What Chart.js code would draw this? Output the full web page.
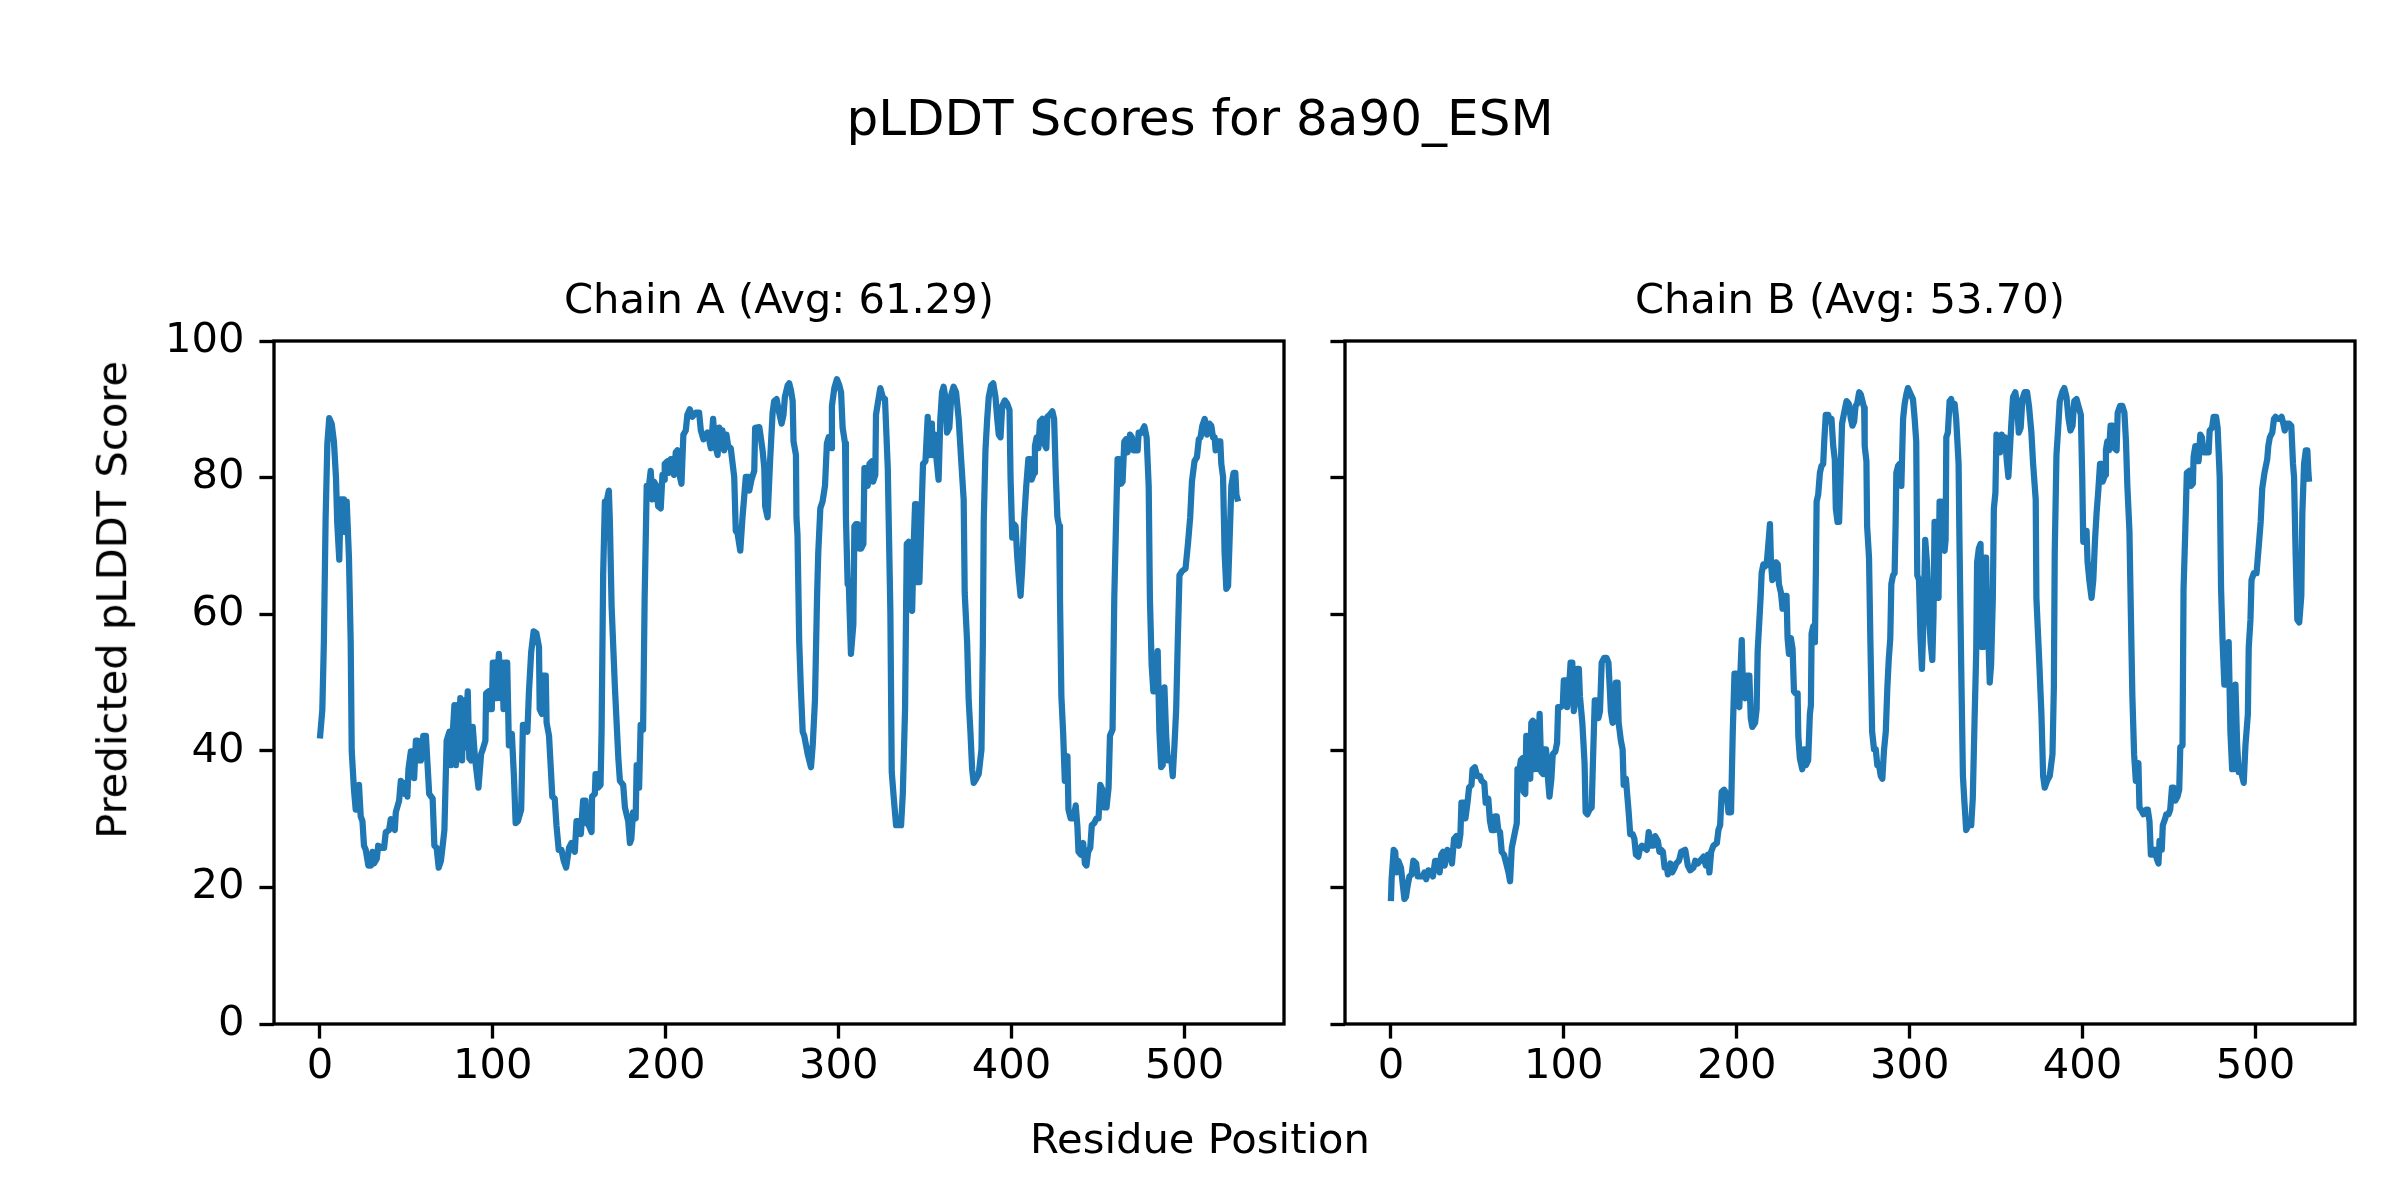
<!DOCTYPE html>
<html>
<head>
<meta charset="utf-8">
<script src="https://cdn.jsdelivr.net/npm/chart.js@4.4.0/dist/chart.umd.min.js"></script>
<style>
    html, body { margin: 0; padding: 0; background: #ffffff; }
    #fig { position: relative; width: 2400px; height: 1200px; overflow: hidden; font-family: 'DejaVu Sans', sans-serif; color: #000; }
    canvas { position: absolute; top: 0; }
    #chartA { left: 0; }
    #chartB { left: 1300px; }
    .txt { position: absolute; white-space: nowrap; line-height: 1; text-align: center; }
    #suptitle { font-size: 50px; left: 0; width: 2400px; top: 93px; }
    #supxlabel { font-size: 41.67px; left: 0; width: 2400px; top: 1118px; }
    #supylabel { font-size: 41.67px; left: -188px; width: 600px; top: 579px; transform: rotate(-90deg); }
</style>
</head>
<body>
<div id="fig">
    <div class="txt" id="suptitle">pLDDT Scores for 8a90_ESM</div>
    <canvas id="chartA" width="1300" height="1200"></canvas>
    <canvas id="chartB" width="1100" height="1200"></canvas>
    <div class="txt" id="supxlabel">Residue Position</div>
    <div class="txt" id="supylabel">Predicted pLDDT Score</div>
</div>
<script>
// values, residue index -> score
const residueA = [
    0, 1.4, 2.3, 3.3, 4.3, 5.4, 6.8, 8.1, 9.3, 10,
    11.2, 12, 13.9, 14.5, 15.5, 16.8, 17.8, 18.4, 19.7, 20.7,
    22, 22.6, 23.6, 24.6, 25.5, 26.5, 28, 29.4, 30.4, 31.3,
    32.9, 33.7, 35.6, 37.1, 38.1, 40, 41, 43.3, 43.9, 45.8,
    46.8, 47.8, 48.7, 49.3, 50.6, 51.2, 52.6, 53.6, 54.5, 55.5,
    56.5, 57.4, 58.4, 59.8, 61.3, 63.2, 65.2, 66.2, 67.5, 68.7,
    70, 71, 72, 73.3, 74.9, 75.8, 76.8, 77.8, 78.7, 79.3,
    80.3, 81.2, 82.2, 83.2, 83.9, 85.5, 86.4, 87.4, 88.4, 89.7,
    91.7, 93.2, 94.2, 95.7, 96.1, 97.5, 98.3, 99.4, 100, 101.4,
    102.1, 103.5, 104.4, 105.4, 106.2, 107.2, 108.3, 109.3, 111, 112.2,
    113.2, 114.5, 116.4, 117.4, 118.8, 120, 120.9, 122.2, 123.6, 125.2,
    126.7, 127.1, 128.4, 129, 130.6, 131.1, 132.5, 133.5, 134.4, 135.8,
    136.8, 138.1, 139.7, 141, 142.4, 144.1, 145.5, 147.4, 148.4, 149.7,
    150.9, 152.2, 153.6, 154.2, 155.5, 157.1, 157.4, 159, 159.4, 160.5,
    160.9, 162.3, 162.9, 163.8, 164.8, 165.8, 167.1, 167.7, 168.7, 170.6,
    172.6, 173.5, 175.4, 176.4, 178.3, 179.3, 180.1, 181.1, 182.6, 183.2,
    184.6, 185.5, 186.9, 187.8, 189, 190.3, 191.3, 192.3, 193.2, 194.6,
    195.6, 197.1, 198.1, 199, 199.4, 201, 201.9, 202.9, 204.2, 204.8,
    205.8, 206.8, 207.7, 209.1, 210.2, 211.6, 212.5, 213.9, 215.4, 217.4,
    219.3, 220.3, 221.8, 224.1, 225.1, 226.1, 227.4, 228.4, 230, 230.9,
    231.9, 232.8, 233.8, 235.1, 236.1, 237.6, 239.6, 240.5, 241.5, 243.1,
    244.4, 246.3, 247.9, 248.3, 249.6, 251.2, 251.7, 254.1, 256, 257,
    257.5, 258.9, 260.4, 261.8, 262.7, 264.1, 265.6, 267, 268.1, 268.9,
    270.5, 271.4, 272.4, 273.4, 273.9, 275.3, 275.6, 276.2, 277.2, 278.2,
    279.2, 280.1, 282.1, 284, 285, 286.3, 287.5, 288.2, 289.4, 290.7,
    292.1, 293.2, 294.2, 295.6, 296.1, 297.5, 299, 300.4, 301.4, 302.3,
    303.7, 304.2, 305.2, 305.8, 307.1, 308.5, 309.1, 310, 311, 312,
    313, 314.3, 314.9, 315.8, 316.8, 317.8, 319.3, 319.9, 321.2, 321.6,
    322.6, 324.1, 325.5, 326.8, 328.4, 329.9, 330.7, 331.9, 333.2, 335.1,
    336.1, 337.1, 338.4, 339.4, 340.5, 341.5, 342.5, 343.4, 344.2, 345,
    345.7, 346.7, 348.1, 348.8, 350.2, 351.5, 352.5, 353.9, 354.4, 355.8,
    356.6, 357.8, 358.8, 359.8, 360.7, 361.7, 362.7, 364, 365.2, 366.5,
    367.9, 369.4, 371, 372.3, 372.9, 374.3, 375.2, 376.2, 377.2, 378.1,
    379.5, 381, 382.6, 383.4, 383.9, 384.9, 385.9, 386.8, 388.2, 389.4,
    390.7, 391.7, 392.6, 393.6, 394.6, 396.1, 397.5, 398.8, 399.4, 400.4,
    401.4, 402.3, 403.3, 404.3, 405.2, 406.2, 407.2, 408.5, 409.7, 411,
    411.6, 413, 413.5, 414.5, 415.5, 416.4, 417.8, 418.8, 420.1, 420.7,
    422, 423.6, 424.6, 425.6, 426.5, 427.5, 428, 428.8, 429.8, 430.8,
    432.3, 432.9, 434.2, 435.8, 437.1, 438.1, 438.7, 440, 441.4, 442.4,
    443.3, 444.3, 445.5, 446.4, 447.8, 449.1, 450.3, 451.3, 452.6, 453.6,
    454.9, 456.1, 456.9, 458.4, 459.4, 460.3, 461.3, 462.3, 463.3, 464.2,
    465.2, 466.2, 467.1, 468.5, 469.6, 470.4, 471.9, 472.9, 473.5, 474.8,
    476.8, 478.1, 479.3, 480, 481, 482, 483.6, 484.5, 485.5, 486.5,
    487.4, 488.4, 489.4, 490.3, 491.3, 492.3, 493.2, 494.2, 495.2, 496.1,
    497.1, 498.6, 500.6, 502, 503.3, 504.3, 505.8, 507.2, 508.3, 509.3,
    510.3, 511.7, 513, 514.5, 515.5, 516.5, 517.4, 518, 519.4, 520.7,
    521.3, 522.3, 523.2, 524.2, 525.2, 526.1, 527.1, 528.4, 529.4, 530, 531
];
const plddtA = [
    41.8, 46, 56, 74, 85, 88.7, 87.9, 85.3, 80, 73.5,
    68, 76.8, 76.8, 72, 76.5, 68.3, 56, 40, 34.3, 31.4,
    31.4, 35, 30.4, 29.7, 26.1, 25.5, 23.2, 23.2, 25.2, 23.5,
    24.2, 26.1, 25.8, 25.8, 28.1, 28.4, 30, 28.4, 31, 32.7,
    35.6, 35.3, 33.7, 35.3, 33.3, 37.3, 39.9, 39.9, 36, 41.5,
    41.5, 38.6, 38.6, 42.2, 42.2, 33.7, 33, 26.1, 25.8, 22.9,
    23.9, 26.1, 28.4, 41.5, 42.8, 37.9, 42.5, 46.7, 37.9, 46.7,
    39.5, 47.7, 38.6, 47.4, 40.5, 48.7, 38.9, 38.6, 43.5, 38.9,
    34.6, 39.5, 40.2, 41.5, 48.4, 48.7, 46.1, 46.1, 52.9, 52.9,
    47.7, 54.2, 47.7, 52.9, 46.1, 52.9, 52.9, 40.8, 42.5, 36.3,
    29.4, 29.7, 31.4, 43.8, 43.8, 42.8, 48.7, 54.5, 57.5, 57.2,
    55.2, 46.1, 45.4, 51, 51, 44.1, 42.2, 37.6, 33.3, 33,
    29.1, 25.5, 25.5, 23.9, 22.9, 25.8, 26.5, 25.2, 29.7, 29.7,
    27.8, 32.7, 32.7, 29.4, 29.1, 28.1, 33.3, 33.7, 36.6, 36.6,
    34.6, 35, 42.8, 65.7, 76.5, 76.5, 78.1, 73.5, 61.1, 49.3,
    38.9, 35.6, 35, 31.7, 29.7, 26.5, 27.1, 31, 30.1, 37.9,
    34.6, 43.8, 43.1, 62.4, 78.8, 78.8, 81, 76.8, 79.4, 78.8,
    75.8, 75.5, 80.4, 79.7, 82, 82.4, 80.7, 82.7, 82.7, 80.4,
    83.7, 84, 80.7, 79.1, 86.3, 86.9, 89.2, 90, 88.9, 89.5,
    89.5, 86.9, 85.6, 86.6, 85.6, 84.3, 88.6, 85, 83.3, 87.3,
    84.3, 86.9, 84, 86.3, 84.6, 84.3, 80.1, 72.2, 71.9, 69.3,
    74.2, 80.1, 80.1, 78.1, 79.7, 81, 87.3, 87.4, 84, 81.4,
    75.8, 74.2, 82.7, 89.5, 91.2, 91.5, 89.5, 87.9, 89.2, 91.8,
    93.5, 93.8, 92.8, 91.2, 85.3, 83.3, 74.2, 71.6, 55.9, 48.7,
    42.8, 42.2, 39.5, 37.6, 40.8, 47.4, 62.4, 69, 75.5, 76.5,
    78.8, 85, 85.9, 84.3, 90.5, 93.1, 94.4, 93.5, 92.5, 87.3,
    85, 74.2, 64.4, 65, 54.2, 58.5, 72.9, 73.2, 73.2, 69.6,
    69.6, 70.3, 81.4, 81.4, 78.8, 82, 82.4, 79.4, 80.4, 89.2,
    90.8, 93.1, 91.8, 91.5, 81.4, 60.5, 36.9, 33, 29.1, 29.1,
    29.1, 33.7, 46.1, 70.3, 70.6, 62.4, 60.5, 70.3, 76.1, 76.1,
    64.7, 64.7, 76.5, 82, 82.4, 88.9, 83.3, 87.9, 83.3, 86.3,
    82.7, 79.7, 88.6, 92.5, 93.3, 91.8, 86.6, 87.3, 92.2, 93.3,
    92.5, 88.6, 82, 76.8, 63.1, 55.9, 47.4, 42.8, 37.3, 35.3,
    35.9, 36.6, 40.2, 55.9, 73.5, 84, 88.6, 91.8, 93.5, 93.8,
    91.8, 88.6, 86.3, 85.9, 90.5, 91.3, 90.8, 89.9, 80.1, 71.2,
    73.2, 72.9, 68.3, 65, 62.7, 67, 73.5, 78.8, 82.7, 82.7,
    79.7, 80.7, 84.6, 85.9, 84.3, 88.2, 88.6, 85, 84.3, 88.9,
    89.2, 89.7, 88.6, 80.1, 74.2, 72.9, 62.4, 48, 42.8, 35.6,
    39.2, 31.4, 30.1, 30.1, 32, 28.8, 25.2, 24.8, 26.5, 23.5,
    23.2, 25.2, 25.8, 29.1, 29.4, 30.1, 30.1, 35, 34.3, 31.7,
    31.7, 34.6, 42.2, 43.1, 62.4, 72.2, 82.7, 82.7, 79.1, 79.4,
    85.3, 85.6, 83.7, 86.3, 85.9, 84, 84, 84, 86.6, 86.5,
    87.5, 85.9, 78.8, 62.4, 52.6, 48.7, 48.7, 54.6, 42.8, 37.6,
    37.9, 49.3, 42.2, 38.6, 38.9, 38.9, 36.3, 40.8, 46.1, 55.9,
    65.7, 66.3, 66.7, 70.3, 74.2, 79.4, 82.4, 83, 85.6, 85.9,
    87.6, 88.6, 86.3, 87.9, 87.6, 85.9, 85.9, 84, 85.3, 85.3,
    82, 80.1, 69, 63.7, 64.1, 70.9, 78.8, 80.7, 80.7, 77.5, 76.5
];

const residueB = [
    0, 0.4, 1.6, 2.5, 3.3, 4.3, 5.8, 6.8, 7.8, 8.7,
    9.7, 10.7, 12, 13, 14.6, 15.5, 17.1, 18.4, 19.4, 20.4,
    21.7, 23.3, 24.3, 25.6, 27.2, 28.2, 29.1, 30.1, 31.1, 32.6,
    34, 35.3, 36.5, 37.9, 39.2, 40.2, 40.8, 42.3, 43.1, 44.3,
    45.2, 46.6, 47.2, 48.5, 49.9, 51.5, 52.4, 54, 54.8, 56.3,
    57.3, 58.3, 59.8, 60.2, 61.2, 62.1, 63.1, 64.1, 65.4, 67,
    68, 68.9, 69.9, 71.5, 72.8, 73.2, 74.4, 75.1, 76.1, 76.7,
    77.7, 78.3, 79, 79.6, 80.6, 81.2, 82.1, 83.1, 84.1, 85,
    86, 87, 88, 88.7, 89.7, 90.7, 91.7, 92.8, 93.6, 95.1,
    96.1, 96.7, 98.1, 99.4, 100, 101.4, 101.9, 102.9, 103.9, 104.9,
    105.8, 106.8, 107.8, 108.7, 109.3, 110.7, 112, 112.6, 113.6, 114.9,
    116.1, 116.9, 117.9, 119, 120, 120.9, 121.9, 123.3, 124.7, 125.8,
    126.6, 127.2, 128.2, 129.1, 130.1, 131.1, 131.7, 133, 134, 134.6,
    135.9, 137.5, 138.4, 139.8, 140.8, 141.7, 143.1, 144.1, 145.2, 146.6,
    148, 149.1, 150.5, 151.8, 152.8, 154.4, 155.3, 156.3, 157.3, 158.3,
    159.6, 160.2, 161.6, 162.7, 164.1, 165, 166.6, 167.9, 170.2, 171.7,
    173.1, 175, 176, 177.5, 178.8, 180.8, 182.1, 183.3, 184.2, 185.2,
    186.5, 188.5, 189.4, 190.4, 191.3, 192.7, 194.2, 195.2, 196.7, 197.7,
    198.7, 199.6, 200.6, 201.5, 202.1, 202.9, 203.7, 204.8, 205.8, 207.3,
    208.1, 209, 210.6, 211.5, 212.1, 213.1, 213.8, 214.4, 215.4, 216.3,
    217.3, 218.3, 219.2, 219.8, 220.6, 221.7, 222.7, 223.7, 224.4, 225.6,
    226.5, 227.9, 228.8, 229.4, 230.2, 231.3, 232.3, 233.1, 234, 235.2,
    235.6, 236.5, 237.9, 239, 240, 241.3, 242.3, 242.9, 243.3, 244.2,
    245.2, 245.8, 246.2, 247.1, 248.1, 249, 250, 250.6, 251.5, 252.9,
    253.8, 254.8, 255.8, 256.7, 257.3, 258.3, 259.2, 260, 260.9, 262.1,
    263.5, 264.8, 266, 266.9, 267.9, 268.7, 269.6, 270.8, 271.7, 272.7,
    273.7, 274, 275, 275.4, 276.5, 277.3, 278.3, 279.4, 280.4, 281.3,
    282.3, 283.3, 284.2, 285.2, 286.2, 287.1, 287.9, 288.8, 289.4, 290.4,
    291.3, 291.9, 292.3, 293.3, 294.2, 295.2, 296.2, 297.1, 298.1, 299,
    300.6, 301.9, 302.9, 303.8, 304.4, 305.4, 306.3, 307.1, 308.1, 309,
    310, 310.9, 312.1, 313.1, 313.8, 314.4, 315.4, 316, 316.7, 317.3,
    318.3, 319.2, 320.2, 320.8, 321.2, 322.1, 323.1, 324, 325, 326,
    326.9, 328.3, 328.8, 329.8, 330.8, 331.7, 332.7, 334, 335.6, 336.5,
    337.5, 338.5, 339, 340, 341, 341.7, 342.7, 343.3, 344.2, 344.8,
    345.6, 346.3, 347.1, 348.1, 348.7, 349.6, 350.2, 351.3, 352.3, 353.3,
    354.2, 355.2, 356.2, 357.1, 358.8, 359.8, 361.1, 362.1, 363.1, 364.2,
    365.2, 366.5, 367.9, 369, 370.4, 371.4, 372.9, 373.3, 374.9, 376.2,
    377.2, 378.1, 379.5, 381, 382.6, 383.4, 383.9, 384.9, 385.9, 386.8,
    388.2, 389.4, 390.7, 391.9, 393, 394.2, 395.2, 396.5, 397.9, 399,
    399.8, 400.4, 401.4, 402.3, 402.9, 403.9, 405.2, 406.2, 407.2, 408.1,
    409.1, 410.1, 411, 411.6, 413, 413.5, 414.3, 415.3, 416.2, 417.4,
    418.4, 419.7, 420.3, 421.7, 423, 424.2, 425.1, 425.9, 427.1, 427.9,
    428.8, 429.8, 430.8, 432.3, 432.9, 433.8, 435.2, 436.8, 437.7, 438.7,
    439.5, 441, 442, 442.9, 443.9, 444.5, 445.8, 446.4, 447.8, 448.4,
    449.7, 450.7, 451.7, 452.6, 453.6, 454.9, 455.9, 456.5, 457.8, 458.4,
    459.4, 460.3, 461.7, 462.7, 463.8, 464.2, 465.2, 466.2, 467.1, 468.1,
    469, 470, 471.4, 472.9, 473.5, 474.9, 475.8, 477.2, 478.1, 479.3,
    480.1, 481, 482, 483.6, 484.5, 485.5, 486.5, 487.4, 488.4, 489.4,
    490.3, 491.7, 493.2, 494.2, 495.6, 496.1, 497.1, 497.7, 499, 500.6,
    502, 503, 503.9, 505.2, 506.8, 507.4, 508.3, 509.7, 510.7, 511.6,
    513, 514, 515.1, 516.1, 516.9, 518.1, 519.4, 520.7, 521.7, 522.3,
    523.2, 524.2, 525.3, 526.5, 527.1, 528.1, 529.1, 530, 530.6, 531
];
const plddtB = [
    18, 21.2, 25.5, 25.2, 22.2, 23.9, 22.9, 20.6, 18.3, 18.6,
    20.3, 21.6, 21.9, 23.9, 23.5, 21.6, 21.6, 21.6, 22.2, 21.2,
    22.5, 22.2, 21.6, 23.9, 23.9, 22.2, 24.8, 25.2, 23.2, 25.5,
    25.2, 23.5, 27.1, 27.5, 26.1, 27.8, 32.4, 32.4, 30.1, 32.4,
    34.6, 35, 37.3, 37.6, 36.3, 36.3, 35.6, 35.3, 32.4, 33,
    29.7, 28.4, 28.4, 30.4, 30.4, 28.4, 28.1, 25.2, 24.8, 23.2,
    22.2, 20.9, 25.8, 27.8, 29.4, 37.3, 37.3, 38.6, 38.9, 34,
    33.7, 42.2, 42.2, 36.9, 35.9, 44.1, 44.4, 37.3, 44.1, 37.3,
    45.4, 36.9, 36.6, 40.2, 40.2, 36.3, 33.3, 35.9, 39.5, 39.9,
    41.2, 46.4, 46.4, 46.7, 50.3, 50.3, 46.4, 48.7, 52.9, 52.9,
    45.8, 47.7, 52, 52, 48, 44.1, 38.2, 31, 30.7, 31.4,
    31.7, 38.9, 47.4, 47.4, 44.8, 45.8, 52.9, 53.6, 53.6, 52.9,
    49, 45.8, 44.1, 44.4, 50, 50, 44.1, 41.5, 40.2, 35,
    35.9, 31, 27.8, 27.8, 27.1, 24.8, 24.5, 25.8, 26.1, 25.8,
    25.5, 28.1, 26.1, 26.1, 27.5, 26.8, 25.2, 25.5, 25.2, 22.9,
    22.9, 21.9, 23.5, 22.2, 22.9, 23.5, 23.9, 25.2, 25.5, 23.2,
    22.5, 22.9, 23.9, 23.5, 23.9, 24.5, 23.2, 24.8, 22.2, 25.2,
    26.1, 26.5, 28.4, 29.1, 34, 34.3, 33.7, 31, 31, 42.8,
    51.3, 51.3, 46.7, 46.4, 51.3, 56.2, 48, 47.7, 51, 51,
    44.8, 43.5, 44.1, 46.1, 54.6, 59.2, 62.4, 66, 67.3, 67,
    67.3, 70.3, 73.2, 67.6, 65, 65.4, 67.6, 67.3, 64.4, 63.1,
    60.8, 62.7, 62.7, 56.5, 54.2, 56.5, 54.9, 48.7, 48.4, 48.4,
    42.2, 38.9, 37.3, 40.2, 37.9, 38.6, 45.4, 46.7, 57.2, 58.2,
    55.9, 67, 76.5, 77.5, 80.7, 81.7, 82, 85.3, 89.2, 89.2,
    88.2, 88.6, 84.6, 82.7, 75.5, 73.5, 73.5, 80.1, 87.9, 89.5,
    91.2, 90.8, 88.6, 87.6, 88.2, 90.5, 90.8, 92.5, 92.2, 91.2,
    90.2, 84.6, 82.4, 72.9, 68.3, 55.9, 42.8, 40.2, 40.2, 37.9,
    37.9, 36.3, 35.9, 40.2, 42.8, 49.3, 53.3, 56.5, 64.4, 65.7,
    66, 73.5, 80.7, 81.7, 82, 78.8, 88.6, 90.8, 92.2, 93.1,
    92.2, 91.5, 88.6, 85.3, 65.7, 65, 56.5, 52, 59.8, 70.9,
    67.6, 61.8, 55.9, 53.3, 59.8, 73.5, 73.5, 62.4, 62.4, 76.5,
    76.5, 69.6, 69.3, 70.9, 85.9, 86.6, 91.2, 91.5, 90.2, 90.8,
    88.6, 82, 70.9, 52.6, 36.3, 32.4, 28.4, 29.1, 29.1, 33,
    44.1, 54.6, 67.6, 69.6, 70.3, 55.2, 55.2, 68.3, 68.3, 59.2,
    55.9, 50, 52.6, 62.4, 75.5, 77.8, 86.3, 85.9, 83.7, 86.3,
    85.3, 85.9, 82.4, 80.1, 87.9, 91.8, 92.5, 90.8, 86.6, 87.3,
    91.5, 92.5, 92.5, 90.5, 86.6, 82, 76.8, 62.4, 53.3, 45.4,
    36.3, 34.6, 35.6, 36.3, 39.5, 49.3, 69, 83.3, 87.3, 91.2,
    92.5, 93.1, 91.8, 88.6, 86.9, 87.6, 91.2, 91.5, 90.2, 89.2,
    80.1, 70.6, 72.2, 72.2, 67.6, 65, 62.4, 65, 70.9, 74.8,
    78.1, 82, 82, 79.4, 80.4, 84, 85.3, 84, 87.6, 87.6,
    84.3, 84, 89.5, 90.5, 90.5, 89.5, 85.3, 78.8, 72.2, 60.5,
    48, 39.5, 35.6, 38.2, 31.7, 31.4, 30.7, 31.4, 31.4, 29.7,
    24.8, 24.8, 25.5, 24.2, 23.5, 26.8, 25.5, 29.1, 30.1, 30.7,
    30.7, 31.4, 34.6, 34.6, 32.7, 33.3, 34.3, 40.5, 40.8, 63.7,
    72.2, 80.7, 81, 78.8, 79.1, 83, 84.6, 84.6, 82.4, 86.3,
    85.9, 83.7, 83.7, 83.7, 86.9, 87.3, 88.9, 88.9, 87.3, 80.1,
    63.7, 55.9, 49.7, 49.7, 55.9, 42.8, 37.3, 37.3, 49.7, 40.8,
    36.9, 36.9, 35.3, 40.8, 45.4, 55.2, 59.2, 65, 66, 66,
    70.3, 73.5, 78.4, 80.7, 82.7, 84.6, 85.9, 86.6, 88.6, 88.9,
    88.6, 88.6, 88.9, 87.9, 86.9, 87.9, 87.9, 87.6, 82, 80.1,
    69, 59.2, 58.8, 62.7, 74.8, 82, 84, 84, 80.7, 79.4
];

const xTicks = [0, 100, 200, 300, 400, 500];
const yTicks = [0, 20, 40, 60, 80, 100];
const titleA = 'Chain A (Avg: 61.29)';
const titleB = 'Chain B (Avg: 53.70)';

const PT = 300 / 72;            // figure was 300 dpi
const FONT = "'DejaVu Sans', sans-serif";
const LINE_COLOR = '#1f77b4';

// matplotlib-like box around the plot area
const framePlugin = {
    id: 'frame',
    afterDraw(chart) {
        const { ctx, chartArea: a } = chart;
        ctx.save();
        ctx.strokeStyle = '#000';
        ctx.lineWidth = 0.8 * PT;
        ctx.strokeRect(a.left, a.top, a.right - a.left, a.bottom - a.top);
        ctx.restore();
    }
};

function makeChart(id, residues, scores, title, yWidth, pad, showYLabels) {
    const ctx = document.getElementById(id).getContext('2d');
    const points = residues.map((r, i) => ({ x: r, y: scores[i] }));
    return new Chart(ctx, {
        type: 'line',
        data: {
            datasets: [{
                data: points,
                borderColor: LINE_COLOR,
                borderWidth: 1.5 * PT,
                borderJoinStyle: 'round',
                pointRadius: 0,
                tension: 0,
                fill: false
            }]
        },
        options: {
            responsive: false,
            animation: false,
            devicePixelRatio: 1,
            layout: { padding: pad },
            plugins: {
                legend: { display: false },
                tooltip: { enabled: false },
                title: {
                    display: true,
                    text: title,
                    fullSize: false,
                    color: '#000',
                    font: { family: FONT, size: 10 * PT, weight: 'normal' },
                    padding: { top: 0, bottom: 14 }
                }
            },
            scales: {
                x: {
                    type: 'linear',
                    min: -26.55,
                    max: 557.55,
                    afterBuildTicks: s => { s.ticks = xTicks.map(v => ({ value: v })); },
                    afterFit: s => { s.height = 176; },
                    border: { display: false },
                    grid: {
                        drawOnChartArea: false,
                        drawTicks: true,
                        tickLength: 3.5 * PT,
                        tickWidth: 0.8 * PT,
                        tickColor: '#000'
                    },
                    ticks: {
                        color: '#000',
                        font: { family: FONT, size: 10 * PT },
                        padding: 4,
                        maxRotation: 0,
                        autoSkip: false
                    }
                },
                y: {
                    min: 0,
                    max: 100,
                    afterBuildTicks: s => { s.ticks = yTicks.map(v => ({ value: v })); },
                    afterFit: s => { s.width = yWidth; },
                    border: { display: false },
                    grid: {
                        drawOnChartArea: false,
                        drawTicks: true,
                        tickLength: 3.5 * PT,
                        tickWidth: 0.8 * PT,
                        tickColor: '#000'
                    },
                    ticks: {
                        display: showYLabels,
                        color: '#000',
                        font: { family: FONT, size: 10 * PT },
                        padding: 15
                    }
                }
            }
        },
        plugins: [framePlugin]
    });
}

makeChart('chartA', residueA, plddtA, titleA, 274, { left: 0, right: 16, top: 277, bottom: 0 }, true);
makeChart('chartB', residueB, plddtB, titleB, 45, { left: 0, right: 45, top: 277, bottom: 0 }, false);
</script>
</body>
</html>
